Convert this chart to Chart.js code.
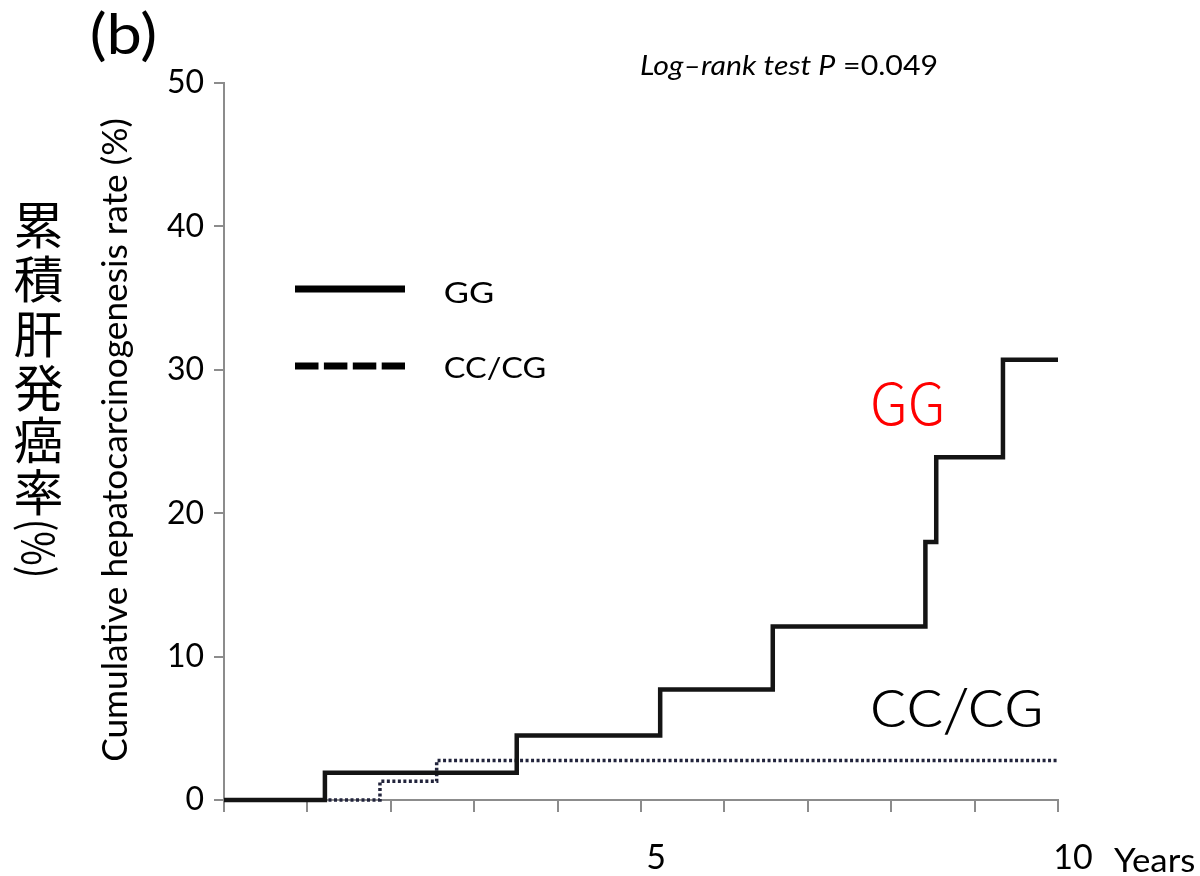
<!DOCTYPE html>
<html>
<head>
<meta charset="utf-8">
<script src="https://cdn.jsdelivr.net/npm/chart.js@4.4.0/dist/chart.umd.min.js"></script>
<style>
html,body{margin:0;padding:0;background:#fff;}
#wrap{position:relative;width:1200px;height:876px;}
</style>
</head>
<body>
<div id="wrap"><canvas id="c" width="1200" height="876"></canvas></div>
<script>
const ggTimes = [0, 1.21, 3.51, 5.23, 6.58, 8.41, 8.54, 9.34, 10];
const ggRates = [0, 1.9, 4.5, 7.7, 12.1, 18.0, 23.9, 30.7, 30.7];
const ccTimes = [0, 1.87, 2.55, 10];
const ccRates = [0, 1.3, 2.75, 2.75];
const xLabelTicks = [5, 10];
const seriesNames = ['GG', 'CC/CG'];
const panelLabel = '(b)';
const testLabelItalic = 'Log\u2013rank test P';
const testLabelValue = ' =0.049';
const yTitleEn = 'Cumulative hepatocarcinogenesis rate (%)';
const yTitleJaChars = ['累', '積', '肝', '発', '癌', '率'];
const yTitleJaTail = '(%)';
const xUnit = 'Years';

const LATO = 'Lato, "Open Sans", sans-serif';
const CJK = '"Noto Sans CJK JP", sans-serif';

function fitInk(ctx, text, style, family, left, top, right, bottom, color) {
  const base = 100;
  ctx.font = style + ' ' + base + 'px ' + family;
  let m = ctx.measureText(text);
  const h = m.actualBoundingBoxAscent + m.actualBoundingBoxDescent;
  const size = base * (bottom - top) / h;
  ctx.font = style + ' ' + size + 'px ' + family;
  m = ctx.measureText(text);
  const w = m.actualBoundingBoxLeft + m.actualBoundingBoxRight;
  const sx = (right - left) / w;
  ctx.save();
  ctx.fillStyle = color || '#000';
  ctx.textAlign = 'left';
  ctx.textBaseline = 'alphabetic';
  ctx.translate(left, top + m.actualBoundingBoxAscent);
  ctx.scale(sx, 1);
  ctx.fillText(text, m.actualBoundingBoxLeft, 0);
  ctx.restore();
}

function fitCap(ctx, text, style, family, left, capTop, right, baseline, color) {
  const base = 100;
  ctx.font = style + ' ' + base + 'px ' + family;
  const capH = ctx.measureText('H').actualBoundingBoxAscent;
  const size = base * (baseline - capTop) / capH;
  ctx.font = style + ' ' + size + 'px ' + family;
  const m = ctx.measureText(text);
  const w = m.actualBoundingBoxLeft + m.actualBoundingBoxRight;
  const sx = (right - left) / w;
  ctx.save();
  ctx.fillStyle = color || '#000';
  ctx.textAlign = 'left';
  ctx.textBaseline = 'alphabetic';
  ctx.translate(left, baseline);
  ctx.scale(sx, 1);
  ctx.fillText(text, m.actualBoundingBoxLeft, 0);
  ctx.restore();
}

const decor = {
  id: 'decor',
  afterDraw(chart) {
    const ctx = chart.ctx;
    ctx.save();
    fitInk(ctx, panelLabel, 'normal', LATO, 92, 10, 155, 62, '#000');

    {
      const capTop = 56, baseline = 75, left = 640, right = 938;
      const base = 100;
      ctx.font = 'italic ' + base + 'px ' + LATO;
      const capH = ctx.measureText('H').actualBoundingBoxAscent;
      const size = base * (baseline - capTop) / capH;
      const fI = 'italic ' + size + 'px ' + LATO;
      const fN = 'normal ' + size + 'px ' + LATO;
      ctx.font = fI; const w1 = ctx.measureText(testLabelItalic).width;
      ctx.font = fN; const w2 = ctx.measureText(testLabelValue).width;
      const sx = (right - left) / (w1 + w2);
      ctx.save();
      ctx.fillStyle = '#000';
      ctx.textBaseline = 'alphabetic';
      ctx.textAlign = 'left';
      ctx.translate(left, baseline);
      ctx.scale(sx, 1);
      ctx.font = fI; ctx.fillText(testLabelItalic, 0, 0);
      ctx.font = fN; ctx.fillText(testLabelValue, w1, 0);
      ctx.restore();
    }

    ctx.strokeStyle = '#000';
    ctx.lineWidth = 7;
    ctx.lineCap = 'butt';
    ctx.beginPath(); ctx.moveTo(295, 289); ctx.lineTo(405, 289); ctx.stroke();
    ctx.setLineDash([23.5, 5.4]);
    ctx.beginPath(); ctx.moveTo(295, 366); ctx.lineTo(405, 366); ctx.stroke();
    ctx.setLineDash([]);
    fitCap(ctx, seriesNames[0], 'normal', LATO, 445, 282, 493, 303, '#000');
    fitCap(ctx, seriesNames[1], 'normal', LATO, 445, 357, 545, 378, '#000');

    fitCap(ctx, seriesNames[0], '300', CJK, 873, 383, 942, 425, '#ff0000');
    fitInk(ctx, seriesNames[1], '300', CJK, 872, 688, 1040, 735, '#000');

    fitCap(ctx, xUnit, 'normal', LATO, 1114, 848, 1194, 872, '#000');

    {
      const cx = 127, cy = 440, len = 644;
      const base = 100;
      ctx.font = 'normal ' + base + 'px ' + LATO;
      const w = ctx.measureText(yTitleEn).width;
      const size = base * len / w;
      ctx.save();
      ctx.translate(cx, cy);
      ctx.rotate(-Math.PI / 2);
      ctx.font = 'normal ' + size + 'px ' + LATO;
      ctx.fillStyle = '#000';
      ctx.textAlign = 'center';
      ctx.textBaseline = 'alphabetic';
      ctx.fillText(yTitleEn, 0, 0);
      ctx.restore();
    }

    {
      ctx.save();
      ctx.fillStyle = '#000';
      ctx.font = 'normal 50px ' + CJK;
      ctx.textAlign = 'center';
      ctx.textBaseline = 'middle';
      const centers = [225, 279, 334, 388, 440, 492];
      yTitleJaChars.forEach((ch, i) => {
        ctx.fillText(ch, 38.5, centers[i]);
      });
      ctx.translate(39, 548.5);
      ctx.rotate(Math.PI / 2);
      ctx.font = 'normal 44px ' + CJK;
      const m = ctx.measureText(yTitleJaTail);
      const w = m.actualBoundingBoxLeft + m.actualBoundingBoxRight;
      ctx.scale(53 / w, 1);
      ctx.textAlign = 'center';
      ctx.textBaseline = 'middle';
      ctx.fillText(yTitleJaTail, 0, 0);
      ctx.restore();
    }
    ctx.restore();
  }
};

const toPts = (xs, ys) => xs.map((t, i) => ({x: t, y: ys[i]}));

new Chart(document.getElementById('c'), {
  type: 'line',
  data: {
    datasets: [
      {
        label: seriesNames[0],
        data: toPts(ggTimes, ggRates),
        stepped: 'before',
        borderColor: '#141414',
        borderWidth: 4.5,
        pointRadius: 0,
        fill: false,
        clip: false,
        borderJoinStyle: 'miter'
      },
      {
        label: seriesNames[1],
        data: toPts(ccTimes, ccRates),
        stepped: 'before',
        borderColor: '#22243c',
        borderWidth: 3.5,
        borderDash: [3, 2.5],
        pointRadius: 0,
        fill: false,
        clip: false
      }
    ]
  },
  options: {
    responsive: false,
    animation: false,
    devicePixelRatio: 1,
    layout: {padding: {left: 0, right: 142, top: 83, bottom: 0}},
    plugins: {legend: {display: false}, tooltip: {enabled: false}},
    scales: {
      x: {
        type: 'linear',
        min: 0, max: 10,
        afterFit: (s) => { s.height = 76; },
        ticks: {
          stepSize: 1,
          autoSkip: false,
          maxRotation: 0,
          callback: (v) => xLabelTicks.includes(v) ? String(v) : '',
          font: {family: 'Lato', size: 34},
          color: '#000',
          labelOffset: 15,
          padding: 26
        },
        grid: {display: true, drawOnChartArea: false, drawTicks: true, tickLength: 12, color: '#8c8c8c', lineWidth: 2},
        border: {display: true, color: '#8c8c8c', width: 2}
      },
      y: {
        min: 0, max: 50,
        afterFit: (s) => { s.width = 224; },
        ticks: {
          stepSize: 10,
          font: {family: 'Lato', size: 32},
          color: '#000',
          padding: 10
        },
        grid: {display: true, drawOnChartArea: false, drawTicks: true, tickLength: 10, color: '#8c8c8c', lineWidth: 2},
        border: {display: true, color: '#8c8c8c', width: 2}
      }
    }
  },
  plugins: [decor]
});
</script>
</body>
</html>
